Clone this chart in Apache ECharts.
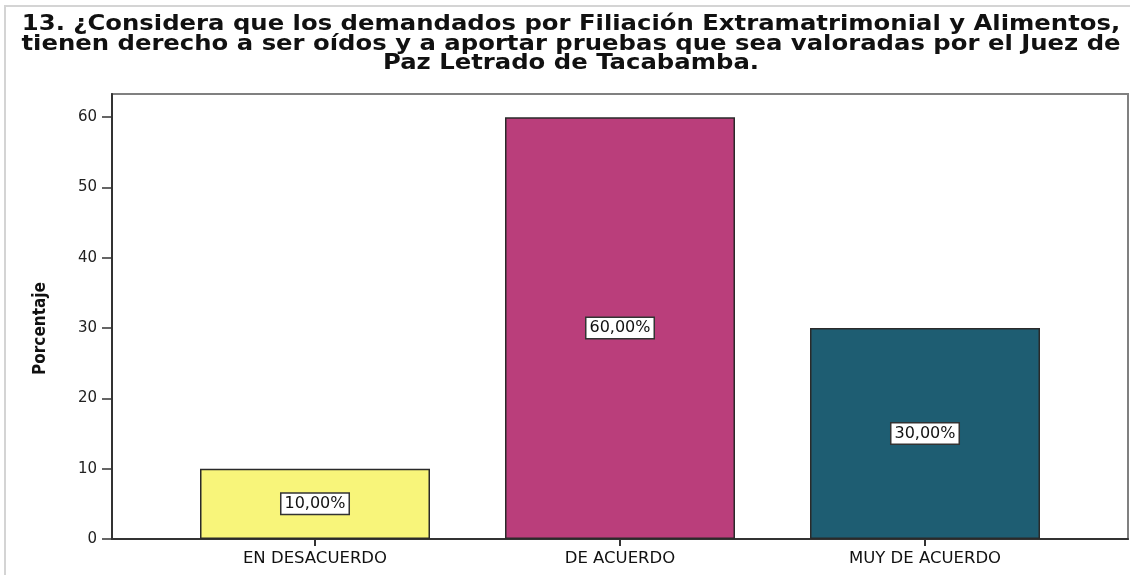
<!DOCTYPE html>
<html>
<head>
<meta charset="utf-8">
<script src="https://cdn.jsdelivr.net/npm/echarts@6/dist/echarts.min.js"></script>
<style>
    html, body { margin: 0; padding: 0; background: #fff; }
    #chart { width: 1130px; height: 575px; }
</style>
</head>
<body>
<div id="chart"></div>
<script>
    // datos del grafico
    const categorias = ["EN DESACUERDO", "DE ACUERDO", "MUY DE ACUERDO"];
    const porcentajes = [10, 60, 30];
    const yTicks = [0, 10, 20, 30, 40, 50, 60];
    const colores = ["#f8f57a", "#ba3e7b", "#1e5d72"];
    const titulo = "13. ¿Considera que los demandados por Filiación Extramatrimonial y Alimentos,\n" +
        "tienen derecho a ser oídos y a aportar pruebas que sea valoradas por el Juez de\n" +
        "Paz Letrado de Tacabamba.";

    const yMax = 63.3;
    const font = "DejaVu Sans";

    const chart = echarts.init(document.getElementById("chart"), null, { renderer: "canvas" });

    const option = {
        animation: false,
        backgroundColor: "#fff",
        graphic: [
            {
                type: "polyline",
                shape: { points: [[5, 575], [5, 6], [1130, 6]] },
                style: { stroke: "#d4d4d4", lineWidth: 2, fill: null },
                silent: true
            },
            {
                // titulo (texto real, algo ensanchado como en el original)
                type: "text",
                x: 571,
                y: 15,
                scaleX: 1.158,
                silent: true,
                style: {
                    text: titulo,
                    fill: "#111",
                    fontFamily: font,
                    fontWeight: "bold",
                    fontSize: 21,
                    lineHeight: 19.5,
                    textAlign: "center",
                    textVerticalAlign: "top"
                }
            }
        ],
        grid: [
            { left: 112, right: 2, top: 94, bottom: 36, show: true, borderColor: "#808080", borderWidth: 2, backgroundColor: "#fff" },
            { left: 162.5, right: 52.5, top: 94, bottom: 36 }
        ],
        xAxis: [
            {
                gridIndex: 0,
                type: "value",
                min: 0,
                max: 1,
                axisLine: { show: true, lineStyle: { color: "#333", width: 2 } },
                axisTick: { show: false },
                axisLabel: { show: false },
                splitLine: { show: false }
            },
            {
                gridIndex: 1,
                type: "category",
                data: categorias,
                axisLine: { show: false },
                axisTick: { show: true, alignWithLabel: true, length: 7, lineStyle: { color: "#333", width: 2 } },
                axisLabel: { fontFamily: font, fontSize: 16.5, color: "#111", margin: 11 }
            }
        ],
        yAxis: [
            {
                gridIndex: 0,
                type: "value",
                min: 0,
                max: yMax,
                interval: 10,
                name: "Porcentaje",
                nameLocation: "middle",
                nameGap: 63,
                nameTextStyle: {
                    fontFamily: "Liberation Sans Narrow, DejaVu Sans Condensed, sans-serif",
                    fontWeight: "bold",
                    fontSize: 17,
                    color: "#111",
                    padding: [0, 24, 0, 0]
                },
                axisLine: { show: true, lineStyle: { color: "#333", width: 2 } },
                axisTick: { show: true, length: 10, customValues: yTicks, lineStyle: { color: "#333", width: 1.5 } },
                axisLabel: { fontFamily: font, fontSize: 15, color: "#222", margin: 15, customValues: yTicks },
                splitLine: { show: false }
            },
            {
                gridIndex: 1,
                type: "value",
                min: 0,
                max: yMax,
                show: false
            }
        ],
        series: [
            {
                type: "bar",
                xAxisIndex: 1,
                yAxisIndex: 1,
                barWidth: 230,
                data: porcentajes.map(function (v, i) {
                    return { value: v, itemStyle: { color: colores[i] } };
                }),
                itemStyle: { borderColor: "#2a2a2a", borderWidth: 1.5 },
                label: {
                    show: true,
                    position: "inside",
                    fontFamily: font,
                    fontSize: 16,
                    color: "#111",
                    backgroundColor: "#fff",
                    borderColor: "#333",
                    borderWidth: 1.5,
                    padding: [3, 3, 1, 3],
                    formatter: function (p) {
                        return p.value.toFixed(2).replace(".", ",") + "%";
                    }
                }
            }
        ]
    };

    chart.setOption(option);
</script>
</body>
</html>
